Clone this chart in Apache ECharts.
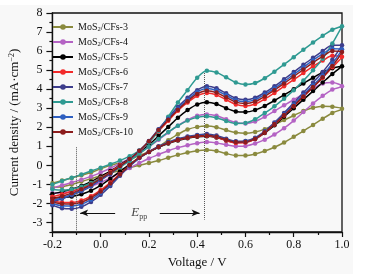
<!DOCTYPE html>
<html>
<head>
<meta charset="utf-8">
<script src="https://cdn.jsdelivr.net/npm/echarts@6/dist/echarts.min.js"></script>
<style>
html,body{margin:0;padding:0;background:#fff}
#cv{width:369px;height:274px}
</style>
</head>
<body>
<div id="cv"></div>
<script>
// potential points (V), shared by every branch
var voltage = [-0.2,-0.16,-0.12,-0.08,-0.04,0,0.04,0.08,0.12,0.16,0.2,0.24,0.28,0.32,0.36,0.4,0.44,0.48,0.52,0.56,0.6,0.64,0.68,0.72,0.76,0.8,0.84,0.88,0.92,0.96,1.0]

// forward (upper) and reverse (lower) branches, listed from -0.2 V to 1.0 V
var cfs3Fwd = [-0.94,-0.8,-0.66,-0.52,-0.38,-0.18,0,0.13,0.3,0.52,0.72,0.98,1.32,1.63,1.88,2.02,2.06,2.0,1.85,1.72,1.68,1.75,1.9,2.12,2.38,2.62,2.85,3.02,3.1,3.08,2.97]
var cfs3Rev = [-1.15,-1.12,-1.0,-0.85,-0.7,-0.55,-0.4,-0.27,-0.12,0,0.12,0.25,0.4,0.55,0.68,0.77,0.8,0.75,0.62,0.52,0.52,0.6,0.75,0.95,1.2,1.5,1.8,2.12,2.45,2.75,2.97]
var cfs4Fwd = [-1.2,-1.05,-0.9,-0.75,-0.58,-0.38,-0.15,0.1,0.37,0.66,0.98,1.34,1.72,2.08,2.38,2.6,2.67,2.6,2.42,2.25,2.2,2.3,2.55,2.85,3.15,3.45,3.75,4.05,4.3,4.35,4.15]
var cfs4Rev = [-1.45,-1.45,-1.38,-1.26,-1.1,-0.9,-0.66,-0.4,-0.14,0.12,0.36,0.57,0.77,0.93,1.06,1.16,1.22,1.18,1.08,1.0,1.02,1.15,1.35,1.62,1.95,2.35,2.8,3.25,3.65,3.98,4.15]
var cfs5Fwd = [-1.5,-1.38,-1.24,-1.08,-0.86,-0.58,-0.3,0.02,0.35,0.7,1.08,1.55,2.02,2.5,2.9,3.2,3.31,3.22,3.0,2.83,2.8,2.9,3.12,3.4,3.7,4.0,4.3,4.6,4.88,5.1,5.2]
var cfs5Rev = [-1.7,-1.7,-1.64,-1.52,-1.33,-1.05,-0.7,-0.32,0.05,0.4,0.7,0.95,1.15,1.3,1.42,1.5,1.53,1.46,1.31,1.2,1.22,1.38,1.7,2.1,2.55,3.0,3.45,3.9,4.35,4.8,5.2]
var cfs6Fwd = [-1.65,-1.52,-1.36,-1.18,-0.94,-0.65,-0.35,0,0.32,0.72,1.22,1.78,2.34,2.87,3.3,3.65,3.8,3.7,3.45,3.2,3.12,3.22,3.48,3.8,4.15,4.5,4.85,5.2,5.5,5.75,5.7]
var cfs6Rev = [-1.85,-1.95,-1.95,-1.85,-1.62,-1.3,-0.9,-0.45,0,0.4,0.72,0.98,1.18,1.33,1.45,1.53,1.55,1.47,1.3,1.18,1.2,1.38,1.72,2.15,2.62,3.1,3.6,4.1,4.6,5.15,5.7]
var cfs7Fwd = [-1.9,-1.75,-1.57,-1.36,-1.1,-0.78,-0.45,-0.08,0.3,0.75,1.28,1.9,2.5,3.07,3.55,3.95,4.15,4.05,3.78,3.52,3.45,3.55,3.82,4.15,4.52,4.9,5.28,5.65,6.0,6.3,6.3]
var cfs7Rev = [-2.1,-2.25,-2.28,-2.18,-1.92,-1.55,-1.08,-0.55,-0.05,0.38,0.72,1.0,1.22,1.4,1.52,1.6,1.65,1.57,1.4,1.27,1.28,1.45,1.8,2.25,2.75,3.28,3.82,4.35,4.9,5.55,6.3]
var cfs8Fwd = [-1.0,-0.82,-0.65,-0.48,-0.3,-0.12,0.06,0.25,0.48,0.78,1.2,1.8,2.55,3.3,3.95,4.6,4.97,4.88,4.62,4.35,4.24,4.32,4.58,4.92,5.3,5.68,6.07,6.45,6.8,7.12,7.3]
var cfs8Rev = [-1.25,-1.3,-1.25,-1.12,-0.93,-0.68,-0.4,-0.1,0.24,0.6,0.98,1.38,1.75,2.08,2.35,2.52,2.58,2.5,2.33,2.2,2.22,2.42,2.75,3.1,3.5,3.95,4.45,5.0,5.6,6.4,7.3]
var cfs9Fwd = [-1.85,-1.7,-1.53,-1.32,-1.06,-0.74,-0.42,-0.05,0.32,0.76,1.27,1.87,2.45,2.99,3.45,3.85,4.03,3.93,3.68,3.42,3.35,3.45,3.72,4.05,4.4,4.78,5.15,5.52,5.85,6.12,6.1]
var cfs9Rev = [-2.0,-2.12,-2.13,-2.04,-1.8,-1.45,-1.0,-0.5,-0.02,0.38,0.7,0.97,1.19,1.37,1.49,1.57,1.6,1.52,1.36,1.24,1.25,1.42,1.76,2.2,2.68,3.18,3.7,4.2,4.72,5.35,6.1]
var cfs10Fwd = [-1.75,-1.62,-1.46,-1.26,-1.01,-0.7,-0.4,-0.04,0.33,0.77,1.27,1.85,2.4,2.92,3.37,3.75,3.92,3.82,3.57,3.32,3.25,3.35,3.62,3.95,4.3,4.67,5.03,5.4,5.72,6.0,5.95]
var cfs10Rev = [-1.92,-2.02,-2.03,-1.94,-1.7,-1.37,-0.95,-0.48,0,0.4,0.7,0.96,1.17,1.34,1.46,1.54,1.57,1.5,1.34,1.22,1.23,1.4,1.74,2.17,2.64,3.12,3.62,4.12,4.62,5.22,5.95]

var names = ['MoS2/CFs-3','MoS2/CFs-4','MoS2/CFs-5','MoS2/CFs-6','MoS2/CFs-7','MoS2/CFs-8','MoS2/CFs-9','MoS2/CFs-10']
var colors = ['#8a8a3e','#b463c4','#000000','#f22a2a','#3d3d8c','#2f9a92','#2f5fc0','#8c1c1c']
var forwards = [cfs3Fwd,cfs4Fwd,cfs5Fwd,cfs6Fwd,cfs7Fwd,cfs8Fwd,cfs9Fwd,cfs10Fwd]
var reverses = [cfs3Rev,cfs4Rev,cfs5Rev,cfs6Rev,cfs7Rev,cfs8Rev,cfs9Rev,cfs10Rev]

// tick labels
var xTicks = [-0.2,0,0.2,0.4,0.6,0.8,1.0]
var yTicks = [-3,-2,-1,0,1,2,3,4,5,6,7,8]
var yMinorTicks = [-3.5,-2.5,-1.5,-0.5,0.5,1.5,2.5,3.5,4.5,5.5,6.5,7.5]

var serif = 'Liberation Serif'

function loop(fwd, rev){
	var pts = []
	for (var i = 0; i < voltage.length; i++) pts.push([voltage[i], fwd[i]])
	for (var j = voltage.length - 2; j >= 0; j--) pts.push([voltage[j], rev[j]])
	return pts
}

var chart = echarts.init(document.getElementById('cv'))

var series = []
for (var k = 0; k < names.length; k++) {
	series.push({
		name: names[k],
		type: 'line',
		data: loop(forwards[k], reverses[k]),
		smooth: 0.3,
		symbol: 'circle',
		symbolSize: 4.5,
		showSymbol: true,
		lineStyle: {width: 1.5, color: colors[k]},
		itemStyle: {color: colors[k]},
		z: 3
	})
}

// guide lines, arrows and the Epp label
series.push({
	type: 'line',
	data: [],
	markLine: {
		silent: true,
		animation: false,
		label: {show: false},
		symbol: ['none','none'],
		lineStyle: {color: '#555', type: 'dotted', width: 1},
		data: [
			[{coord: [-0.1, 0.95]}, {coord: [-0.1, -3.5]}],
			[{coord: [0.43, 4.85]}, {coord: [0.43, -2.85]}],
			[{coord: [0.06, -2.5], symbol: 'none', lineStyle: {type: 'solid', color: '#111'}}, {coord: [-0.085, -2.5], symbol: 'arrow', symbolSize: [5, 8], lineStyle: {type: 'solid', color: '#111'}}],
			[{coord: [0.245, -2.5], symbol: 'none', lineStyle: {type: 'solid', color: '#111'}}, {coord: [0.41, -2.5], symbol: 'arrow', symbolSize: [5, 8], lineStyle: {type: 'solid', color: '#111'}}]
		]
	}
})
series.push({
	type: 'scatter',
	data: [[0.16, -2.5]],
	symbolSize: 0,
	silent: true,
	label: {
		show: true,
		position: 'inside',
		formatter: '{e|E}{s|pp}',
		rich: {
			e: {fontFamily: serif, fontStyle: 'italic', fontSize: 13, color: '#111'},
			s: {fontFamily: serif, fontSize: 8, color: '#111', padding: [8, 0, 0, 0]}
		}
	}
})

option = {
	animation: false,
	graphic: [{
		type: 'rect',
		shape: {x: 0, y: 5, width: 353, height: 269},
		style: {fill: '#f8f8f8'},
		z: -10,
		silent: true
	}],
	grid: {
		left: 48,
		right: 27,
		top: 13,
		bottom: 42,
		show: true,
		borderColor: '#111',
		borderWidth: 1.3
	},
	legend: {
		orient: 'vertical',
		left: 47,
		top: 16,
		data: names,
		itemWidth: 20,
		itemHeight: 7,
		itemGap: 3,
		formatter: function(n){ return n.replace('MoS2', 'MoS{s|2}') },
		textStyle: {
			fontFamily: serif,
			fontSize: 10,
			color: '#111',
			lineHeight: 12,
			rich: {s: {fontFamily: serif, fontSize: 6.5, color: '#111', padding: [5, 0, 0, 0]}}
		}
	},
	xAxis: {
		type: 'value',
		min: -0.2,
		max: 1.0,
		interval: 0.2,
		name: 'Voltage / V',
		nameLocation: 'middle',
		nameGap: 24,
		nameTextStyle: {fontFamily: serif, fontSize: 13, color: '#111'},
		axisLine: {show: true, onZero: false, lineStyle: {color: '#111', width: 1.3}},
		axisTick: {show: true, length: 5, lineStyle: {color: '#111', width: 1.2}},
		minorTick: {show: true, splitNumber: 2, length: 3, lineStyle: {color: '#111', width: 1.2}},
		splitLine: {show: false},
		axisLabel: {
			fontFamily: serif, fontSize: 12, color: '#111', margin: 7,
			customValues: xTicks,
			formatter: function(v){ return v.toFixed(1) }
		}
	},
	yAxis: [{
		type: 'value',
		min: -3.5,
		max: 8,
		name: 'Current density / (mA·cm{sup|−2})',
		nameLocation: 'middle',
		nameGap: 27,
		nameTextStyle: {
			fontFamily: serif, fontSize: 13, color: '#111',
			rich: {sup: {fontFamily: serif, fontSize: 8, color: '#111', padding: [0, 0, 6, 0]}}
		},
		axisLine: {show: true, onZero: false, lineStyle: {color: '#111', width: 1.3}},
		axisTick: {show: true, length: 6, customValues: yTicks, lineStyle: {color: '#111', width: 1.2}},
		splitLine: {show: false},
		axisLabel: {fontFamily: serif, fontSize: 12, color: '#111', margin: 10, customValues: yTicks}
	}, {
		type: 'value',
		min: -3.5,
		max: 8,
		position: 'left',
		axisLine: {show: false, onZero: false},
		axisTick: {show: true, length: 3, customValues: yMinorTicks, lineStyle: {color: '#111', width: 1.2}},
		axisLabel: {show: false},
		splitLine: {show: false}
	}],
	series: series
}

chart.setOption(option)
</script>
</body>
</html>
